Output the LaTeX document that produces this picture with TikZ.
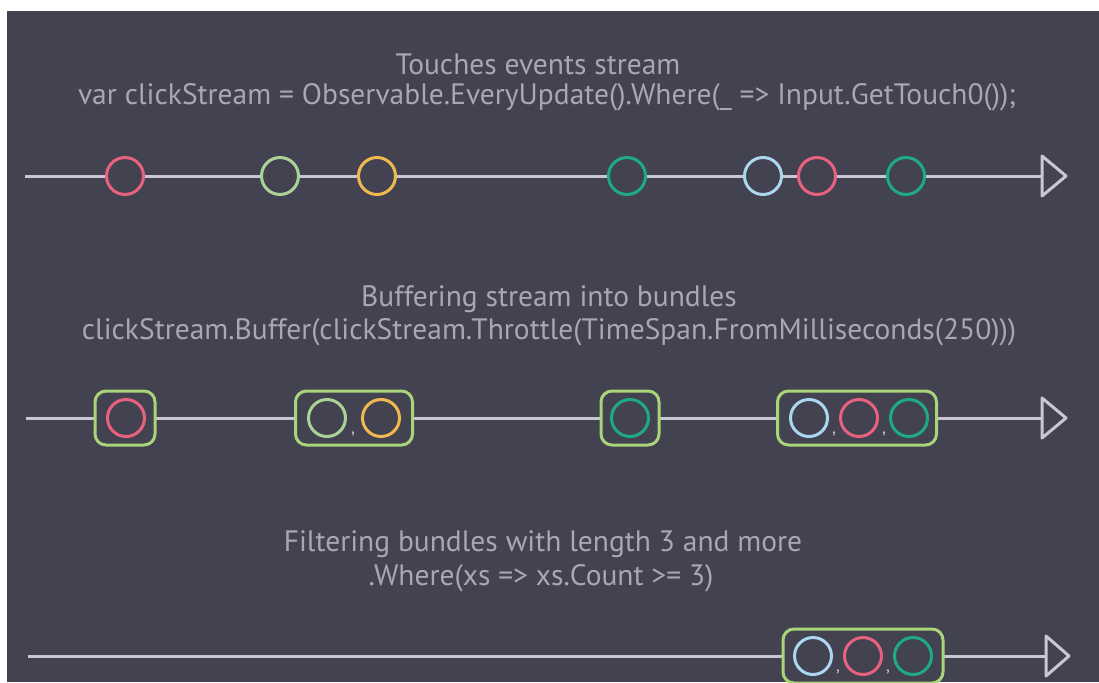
\documentclass[tikz,border=0pt]{standalone}
\usepackage{fontspec}
\setmainfont{PT Sans}
\definecolor{bg}{RGB}{66,66,80}
\definecolor{txt}{RGB}{168,168,180}
\definecolor{rail}{RGB}{200,200,210}
\definecolor{cpink}{RGB}{232,98,128}
\definecolor{cgreen}{RGB}{168,210,150}
\definecolor{cyellow}{RGB}{240,185,80}
\definecolor{cteal}{RGB}{30,170,130}
\definecolor{cblue}{RGB}{170,214,238}
\definecolor{cbox}{RGB}{170,212,120}
\tikzset{
  caption/.style={text=txt, font=\fontsize{29.5}{32}\selectfont, inner sep=0pt, anchor=center},
  rail/.style={draw=rail, line width=3pt},
  headtip/.style={draw=rail, line width=3pt, fill=bg, line join=round},
  event/.style={circle, draw=#1, line width=3pt, fill=bg, minimum size=37pt, inner sep=0pt},
  bundle/.style={draw=cbox, line width=3pt, fill=bg, rounded corners=11pt, inner sep=0pt, minimum height=54pt},
  sep/.style={text=rail, font=\fontsize{17}{17}\selectfont, inner sep=0pt},
}
\begin{document}
\begin{tikzpicture}[x=1pt, y=-1pt]
\useasboundingbox (0,0) rectangle (1099,682);
\fill[white] (0,0) rectangle (1099,682);
\fill[bg] (7,11) rectangle (1099,682);
\clip (7,11) rectangle (1099,682);

% ---- stream of touches ----
\node[caption] (t1a) at (538,64) {Touches events stream};
\node[caption] (t1b) at (547,97) {var clickStream = Observable.EveryUpdate().Where(\_ => Input.GetTouch0());};
\coordinate (s1) at (25,176);
\coordinate (e1) at (1042,176);
\draw[rail] (s1) -- (e1);
\draw[headtip] (1042,156) -- (1066,176) -- (1042,196) -- cycle;
\node[event=cpink]   (a1) at (125,176) {};
\node[event=cgreen]  (a2) at (280,176) {};
\node[event=cyellow] (a3) at (377,176) {};
\node[event=cteal]   (a4) at (627,176) {};
\node[event=cblue]   (a5) at (763,176) {};
\node[event=cpink]   (a6) at (817,176) {};
\node[event=cteal]   (a7) at (906,176) {};

% ---- buffered bundles ----
\node[caption] (t2a) at (549,299) {Buffering stream into bundles};
\node[caption] (t2b) at (549,332) {clickStream.Buffer(clickStream.Throttle(TimeSpan.FromMilliseconds(250)))};
\coordinate (s2) at (26,418);
\coordinate (e2) at (1042,418);
\draw[rail] (s2) -- (e2);
\draw[headtip] (1042,398) -- (1066,418) -- (1042,438) -- cycle;
\node[bundle, minimum width=60pt]  (b1) at (125,418) {};
\node[bundle, minimum width=117pt] (b2) at (354,418) {};
\node[bundle, minimum width=58pt]  (b3) at (630,418) {};
\node[bundle, minimum width=159pt] (b4) at (857,418) {};
\node[event=cpink]   (c1) at (126,418) {};
\node[event=cgreen]  (c2) at (327,418) {};
\node[event=cyellow] (c3) at (381,418) {};
\node[event=cteal]   (c4) at (630,418) {};
\node[event=cblue]   (c5) at (809,418) {};
\node[event=cpink]   (c6) at (859,418) {};
\node[event=cteal]   (c7) at (909,418) {};
\node[sep] (k1) at (353,434) {,};
\node[sep] (k2) at (834,434) {,};
\node[sep] (k3) at (884,434) {,};

% ---- filtered bundles ----
\node[caption] (t3a) at (543,544) {Filtering bundles with length 3 and more};
\node[caption] (t3b) at (541,578) {.Where(xs => xs.Count >= 3)};
\coordinate (s3) at (28,656);
\coordinate (e3) at (1046,656);
\draw[rail] (s3) -- (e3);
\draw[headtip] (1046,636) -- (1069,656) -- (1046,676) -- cycle;
\node[bundle, minimum width=160pt] (d1) at (863,656) {};
\node[event=cblue]  (f1) at (813,656) {};
\node[event=cpink]  (f2) at (863,656) {};
\node[event=cteal]  (f3) at (913,656) {};
\node[sep] (k4) at (838,672) {,};
\node[sep] (k5) at (888,672) {,};
\end{tikzpicture}
\end{document}
